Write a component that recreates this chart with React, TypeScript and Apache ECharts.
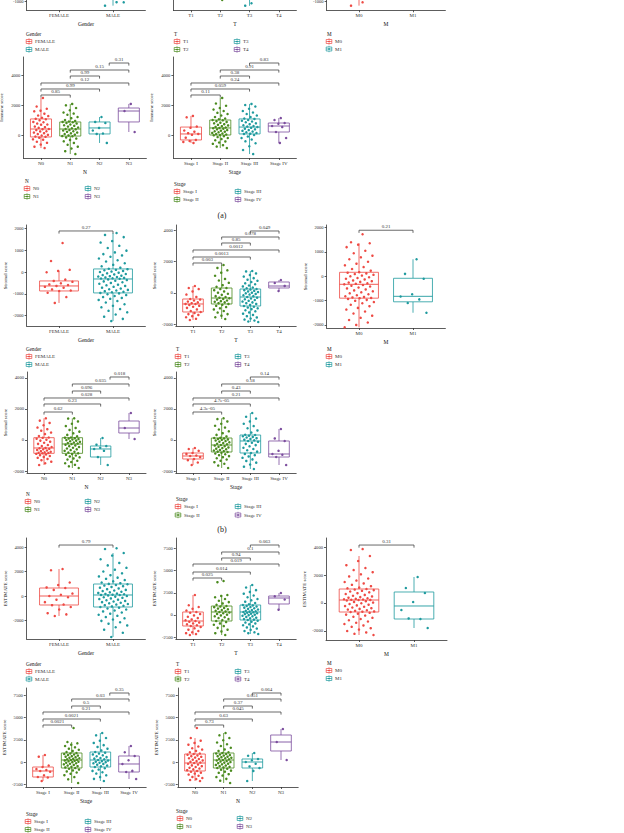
import React, { useEffect, useRef } from "react";
import * as echarts from "echarts";

// ---------- colours / fonts ----------
const RED = "#EE4A44";
const GREEN = "#4A8A1E";
const TEAL = "#1E9A9E";
const PURPLE = "#7C4E9E";
const C4 = [RED, GREEN, TEAL, PURPLE];
const C2 = [RED, TEAL];
const FONT = '"Liberation Serif", "DejaVu Serif", serif';
const TXT = "#333333";

// ---------- categories ----------
const genderCats = ["FEMALE", "MALE"];
const tCats = ["T1", "T2", "T3", "T4"];
const mCats = ["M0", "M1"];
const nCats = ["N0", "N1", "N2", "N3"];
const stageCats = ["Stage I", "Stage II", "Stage III", "Stage IV"];

// ---------- box statistics [min, q1, median, q3, max] ----------
const immuneGenderBox = [[-700, -150, 350, 1000, 2200], [-1290, -100, 450, 1050, 2600]];
const immuneTBox = [[-600, -300, 100, 500, 1300], [-910, 0, 450, 1000, 2400], [-1300, 50, 550, 1050, 2100], [-500, 200, 600, 800, 1100]];
const immuneMBox = [[-1290, -50, 450, 1050, 2500], [-600, 100, 500, 900, 1700]];
const immuneNBox = [[-870, -130, 400, 1070, 2470], [-1270, -70, 400, 870, 2070], [-530, 70, 470, 870, 1200], [200, 870, 1600, 1800, 2070]];
const immuneStageBox = [[-530, -330, 70, 530, 1270], [-870, 0, 470, 1000, 2470], [-1270, 70, 530, 1070, 2070], [-530, 200, 600, 800, 1130]];
const stromalGenderBox = [[-1420, -870, -640, -410, 50], [-2250, -960, -320, 140, 1790]];
const stromalTBox = [[-1725, -1214, -703, -383, 447], [-1661, -703, -320, 319, 1789], [-1853, -831, -256, 256, 1406], [128, 320, 447, 703, 830]];
const stromalMBox = [[-2100, -900, -330, 165, 1360], [-1500, -1050, -824, -82, 700]];
const stromalNBox = [[-1612, -860, -516, 150, 1400], [-1806, -860, -258, 150, 1400], [-1612, -1097, -580, -387, 130], [64, 451, 774, 1225, 1741]];
const stromalStageBox = [[-1612, -1225, -1032, -838, -516], [-1806, -774, -323, 129, 1400], [-1870, -838, -64, 322, 1741], [-1612, -1097, -903, -64, 709]];
const estGenderBox = [[-1632, -734, 0, 653, 2203], [-3346, -898, 82, 979, 3509]];
const estTBox = [[-2252, -1239, -676, 338, 2252], [-2252, -676, 338, 1013, 2252], [-2140, -563, 338, 1126, 3378], [563, 1239, 1914, 2139, 2477]];
const estMBox = [[-2286, -643, 214, 1000, 3357], [-1786, -1143, -214, 786, 1857]];
const estStageBox = [[-2140, -1689, -1013, -563, 788], [-2365, -676, 225, 1013, 2252], [-2140, -563, 225, 1126, 3265], [-1914, -1126, -225, 676, 1802]];
const estNBox = [[-2140, -1013, -113, 901, 2700], [-2365, -676, 225, 1013, 3265], [-2140, -676, 0, 338, 1013], [225, 1239, 2252, 3040, 3716]];

// ---------- jittered sample values ----------
const immuneGenderPts = [[], [-1060, -1290, -1070]];
const immuneTPts = [[], [-910], [-1130, -1290], []];
const immuneMPts = [[-1070, -1290], []];
const immuneNPts = [
  [2470, 1900, 1750, 1620, 1580, 1420, 1300, 1260, 1150, 1080, 1050, 980, 870, 850, 760, 700, 690, 560, 520, 480, 400, 390, 330, 250, 240, 160, 120, 60, 10, -40, -100, -120, -180, -290, -310, -450, -520, -640, -780, -870],
  [2070, 1980, 1800, 1650, 1500, 1430, 1350, 1200, 1120, 1000, 940, 900, 870, 850, 800, 760, 700, 650, 610, 560, 500, 450, 400, 380, 330, 300, 250, 210, 160, 110, 60, 20, -30, -70, -90, -160, -240, -330, -420, -530, -650, -780, -900, -1080, -1270],
  [1200, 870, 800, 470, 300, 100, 70, -530],
  [2070, 1600, 200],
];
const immuneStagePts = [
  [1270, 1180, 560, 480, 300, 220, 120, 70, 10, -180, -330, -400, -460, -530],
  [2470, 2100, 1950, 1800, 1700, 1600, 1480, 1400, 1300, 1200, 1100, 1050, 1000, 980, 920, 870, 820, 780, 720, 680, 640, 590, 540, 500, 470, 450, 420, 380, 330, 290, 250, 220, 180, 140, 100, 60, 30, 0, -20, -80, -140, -200, -270, -350, -430, -500, -590, -680, -770, -870],
  [2070, 2000, 1900, 1750, 1600, 1500, 1400, 1300, 1200, 1100, 1070, 1000, 950, 900, 850, 780, 720, 650, 600, 560, 530, 480, 420, 380, 330, 280, 230, 180, 130, 90, 70, 0, -100, -200, -300, -420, -550, -750, -1000, -1270],
  [1130, 1000, 800, 750, 600, 530, 200, -200, -530],
];
const stromalGenderPts = [
  [1330, 505, 100, 50, -10, -350, -410, -450, -520, -570, -600, -640, -680, -720, -800, -850, -870, -950, -1150, -1420],
  [1790, 1700, 1600, 1420, 1350, 1200, 1100, 980, 900, 820, 760, 700, 620, 540, 480, 400, 330, 260, 200, 150,
   130, 100, 80, 50, 20, 0, -30, -60, -90, -110, -140, -170, -190, -210, -230, -250, -270, -290, -300, -310,
   -340, -370, -400, -430, -470, -500, -540, -580, -610, -640, -680, -720, -760, -790, -820, -850, -880, -910, -930, -960,
   -980, -1020, -1060, -1100, -1150, -1190, -1230, -1280, -1330, -1400, -1480, -1550, -1620, -1700, -1780, -1850, -1950, -2050, -2150, -2250],
];
const stromalTPts = [
  [447, 320, 250, 100, -100, -250, -383, -420, -480, -550, -600, -650, -700, -703, -760, -820, -880, -950, -1050, -1150, -1214, -1280, -1350, -1400, -1480, -1550, -1650, -1725],
  [1789, 1600, 1450, 1300, 1100, 900, 800, 650, 500, 400, 319, 250, 180, 100, 20, -50, -120, -200, -260, -300, -340, -380, -420, -480, -520, -560, -600, -650, -700, -750, -820, -900, -980, -1050, -1150, -1250, -1350, -1450, -1550, -1661],
  [1406, 1380, 1250, 1150, 1050, 950, 850, 780, 700, 620, 560, 480, 420, 350, 300, 256, 220, 180, 140, 100, 60, 20, -20, -60, -100, -150, -200, -256, -300, -350, -400, -450, -500, -550, -600, -650, -700, -760, -831, -880, -930, -980, -1030, -1100, -1170, -1240, -1320, -1400, -1480, -1560, -1630, -1700, -1760, -1820, -1853],
  [830, 640, 450, 130],
];
const stromalMPts = [
  [1730, 1400, 1360, 1300, 1200, 1050, 950, 850, 780, 700, 600, 520, 450, 380, 300, 230, 170,
   150, 120, 90, 60, 30, 0, -40, -70, -100, -130, -170, -200, -230, -260, -290, -310, -330,
   -360, -390, -420, -460, -500, -540, -580, -620, -660, -700, -740, -780, -820, -850, -870, -890, -900,
   -930, -970, -1010, -1060, -1110, -1170, -1230, -1300, -1370, -1450, -1530, -1620, -1710, -1800, -1900, -2000, -2100],
  [700, 100, -100, -740, -830, -950, -1100, -1500],
];
const stromalNPts = [
  [1400, 1250, 1100, 950, 800, 700, 600, 480, 380, 260, 160, 140, 80, 20, -40, -110, -180, -250, -320, -390, -450, -510,
   -530, -570, -600, -640, -680, -720, -760, -790, -820, -840, -860, -890, -930, -980, -1030, -1090, -1150, -1220, -1300, -1400, -1500, -1612],
  [1400, 1380, 1200, 1050, 900, 780, 650, 540, 430, 330, 240, 160, 150, 120, 90, 60, 30, 0, -40, -80, -120, -160, -200, -230, -258,
   -300, -350, -400, -450, -500, -550, -600, -650, -700, -760, -810, -860, -900, -950, -1000, -1060, -1120, -1190, -1260, -1340, -1420, -1500, -1600, -1700, -1806],
  [130, -300, -390, -500, -580, -700, -1100, -1612],
  [1741, 774, 64],
];
const stromalStagePts = [
  [-516, -580, -700, -838, -900, -1000, -1032, -1100, -1225, -1300, -1450, -1612],
  [1400, 1350, 1200, 1050, 920, 800, 680, 560, 440, 330, 230, 140, 129, 100, 70, 40, 10, -30, -70, -110, -150, -200, -240, -280, -323,
   -360, -400, -440, -480, -520, -560, -600, -640, -680, -720, -750, -774, -820, -870, -920, -980, -1040, -1110, -1180, -1260, -1340, -1430, -1530, -1650, -1806],
  [1741, 1500, 1380, 1200, 1050, 900, 760, 620, 480, 340, 322, 280, 240, 200, 160, 120, 70, 20, -20, -64,
   -120, -180, -250, -330, -410, -500, -580, -660, -750, -838, -900, -980, -1060, -1150, -1250, -1350, -1460, -1580, -1720, -1870],
  [709, 100, -64, -700, -903, -950, -1097, -1612],
];
const estGenderPts = [
  [2203, 2100, 1100, 900, 700, 650, 500, 200, 100, 0, -100, -300, -500, -700, -750, -900, -1100, -1400, -1500, -1632],
  [3900, 3835, 3509, 3300, 3000, 2700, 2500, 2300, 2150, 2000, 1850, 1700, 1600, 1500, 1400, 1300, 1200, 1100, 1050, 990,
   960, 900, 850, 800, 740, 680, 620, 560, 500, 450, 400, 350, 300, 250, 200, 170, 140, 110, 90, 82,
   50, 0, -50, -100, -150, -200, -250, -300, -350, -400, -450, -500, -550, -600, -650, -700, -750, -800, -850, -898,
   -950, -1020, -1100, -1180, -1260, -1350, -1440, -1530, -1620, -1720, -1820, -1920, -2030, -2140, -2260, -2400, -2550, -2750, -3000, -3346],
];
const estTPts = [
  [2252, 1100, 900, 700, 500, 338, 250, 100, -50, -200, -350, -500, -600, -676, -750, -850, -950, -1050, -1150, -1239, -1350, -1500, -1650, -1800, -1950, -2050, -2150, -2252],
  [3829, 3700, 2252, 2150, 2000, 1800, 1600, 1450, 1300, 1150, 1013, 950, 880, 800, 720, 640, 560, 480, 400, 338, 280, 200, 120, 40, -50, -150, -250, -350, -450, -560, -676, -800, -950, -1100, -1250, -1450, -1650, -1850, -2050, -2252],
  [3378, 3100, 2800, 2600, 2400, 2200, 2000, 1800, 1650, 1500, 1350, 1200, 1126, 1080, 1020, 960, 900, 830, 760, 690, 620, 550, 480, 420, 380, 338, 300, 250, 200, 150, 100, 40, -20, -80, -150, -220, -300, -380, -460, -520, -563, -650, -750, -850, -950, -1050, -1150, -1280, -1400, -1530, -1670, -1800, -1950, -2050, -2140],
  [2477, 2100, 1750, 600],
];
const estMPts = [
  [3850, 3785, 3357, 3000, 2700, 2500, 2350, 2200, 2050, 1900, 1750, 1600, 1500, 1400, 1300, 1200, 1100, 1050, 1000,
   960, 920, 870, 820, 760, 700, 640, 580, 520, 470, 420, 380, 340, 300, 270, 250, 230, 220, 214,
   180, 130, 80, 30, -20, -70, -120, -170, -220, -270, -320, -370, -420, -470, -520, -560, -600, -620, -643,
   -700, -760, -830, -900, -980, -1060, -1140, -1230, -1320, -1410, -1500, -1600, -1700, -1800, -1900, -2000, -2100, -2200, -2286],
  [1857, 1071, 714, 71, -500, -1143, -1100, -1786],
];
const estStagePts = [
  [788, 600, -400, -563, -800, -900, -1013, -1100, -1500, -1689, -1750, -2140],
  [3829, 2252, 2100, 1950, 1800, 1650, 1500, 1380, 1250, 1130, 1013, 960, 900, 840, 780, 720, 660, 600, 540, 480, 420, 360, 300, 260, 225, 180, 130, 80, 30, -20, -80, -140, -200, -260, -330, -400, -470, -540, -610, -676, -760, -850, -950, -1060, -1180, -1320, -1480, -1700, -1950, -2365],
  [3265, 3000, 2700, 2400, 2150, 1900, 1700, 1500, 1300, 1126, 1050, 950, 850, 750, 650, 550, 450, 380, 300, 225, 160, 100, 40, -20, -80, -150, -220, -300, -400, -480, -563, -700, -850, -1000, -1150, -1300, -1500, -1700, -1900, -2140],
  [1802, 1100, 676, 200, -225, -1000, -1126, -1914],
];
const estNPts = [
  [3829, 2700, 2400, 2150, 1950, 1750, 1550, 1400, 1250, 1100, 960, 901, 820, 740, 660, 580, 500, 420, 340, 260, 180, 100, 20, -60, -113, -200, -290, -380, -470, -560, -650, -740, -830, -920, -1013, -1100, -1200, -1300, -1420, -1550, -1680, -1800, -1920, -2030, -2140],
  [3265, 3000, 2700, 2450, 2200, 2000, 1800, 1600, 1420, 1250, 1100, 1013, 960, 900, 840, 780, 720, 660, 600, 540, 480, 420, 360, 300, 225, 170, 110, 50, -10, -70, -130, -190, -260, -330, -400, -470, -540, -610, -676, -760, -860, -970, -1090, -1220, -1370, -1530, -1700, -1900, -2100, -2365],
  [1013, 700, 338, 200, 0, -200, -500, -676, -1000, -2140],
  [3716, 2252, 225],
];

// ---------- significance brackets [from, to, height, p] ----------
const immuneNBr = [[3.33, 4, 4800, "0.31"], [2, 4, 4333, "0.15"], [2, 3, 3933, "0.99"], [1, 4, 3467, "0.12"], [1, 3, 3067, "0.99"], [1, 2, 2667, "0.85"]];
const immuneStageBr = [[3, 4, 4800, "0.83"], [2, 4, 4333, "0.91"], [2, 3, 3933, "0.38"], [1, 4, 3467, "0.24"], [1, 3, 3067, "0.059"], [1, 2, 2667, "0.11"]];
const stromalGenderBr = [[1, 2, 1882, "0.27"]];
const stromalTBr = [[3, 4, 3962, "0.049"], [2, 4, 3578, "0.078"], [2, 3, 3195, "0.85"], [1, 4, 2748, "0.0012"], [1, 3, 2300, "0.0013"], [1, 2, 1917, "0.003"]];
const stromalMBr = [[1, 2, 1895, "0.21"]];
const stromalNBr = [[3.33, 4, 4065, "0.018"], [2, 4, 3613, "0.035"], [2, 3, 3161, "0.096"], [1, 4, 2710, "0.028"], [1, 3, 2323, "0.23"], [1, 2, 1806, "0.62"]];
const stromalStageBr = [[3, 4, 4065, "0.14"], [2, 4, 3613, "0.18"], [2, 3, 3161, "0.43"], [1, 4, 2710, "0.21"], [1, 3, 2323, "4.7e-05"], [1, 2, 1806, "4.3e-05"]];
const estGenderBr = [[1, 2, 4162, "0.79"]];
const estTBr = [[3, 4, 7882, "0.063"], [2, 4, 7094, "0.1"], [2, 3, 6418, "0.94"], [1, 4, 5743, "0.019"], [1, 3, 4842, "0.014"], [1, 2, 4166, "0.025"]];
const estMBr = [[1, 2, 4140, "0.31"]];
const estStageBr = [[3.33, 4, 7769, "0.35"], [2, 4, 7094, "0.03"], [2, 3, 6306, "0.5"], [1, 4, 5630, "0.21"], [1, 3, 4842, "0.0021"], [1, 2, 4166, "0.0021"]];
const estNBr = [[3, 4, 7769, "0.064"], [2, 4, 7094, "0.051"], [2, 3, 6306, "0.37"], [1, 4, 5630, "0.045"], [1, 3, 4842, "0.63"], [1, 2, 4166, "0.73"]];

// ---------- tick labels ----------
const ticksImmuneTop = [-1000];
const ticksImmune = [0, 2000, 4000];
const ticksStromal1k = [-2000, -1000, 0, 1000, 2000];
const ticksStromal2k = [-2000, 0, 2000, 4000];
const ticksEst2k = [-2000, 0, 2000, 4000];
const ticksEst2500 = [-2500, 0, 2500, 5000, 7500];

// ---------- panel layout ----------
type Panel = {
  g: [number, number, number, number];
  cats: string[]; colors: string[];
  yMin: number; yMax: number; ticks: number[];
  xName: string; yName: string;
  box: number[][]; pts: number[][]; br: any[];
};
const panels: Panel[] = [
  { g: [26.6, -92, 118.8, 102.3], cats: genderCats, colors: C2, yMin: -1600, yMax: 5220, ticks: ticksImmuneTop, xName: "Gender", yName: "", box: immuneGenderBox, pts: immuneGenderPts, br: [] },
  { g: [173.4, -92, 123, 102.3], cats: tCats, colors: C4, yMin: -1600, yMax: 5220, ticks: [], xName: "T", yName: "", box: immuneTBox, pts: immuneTPts, br: [] },
  { g: [326.6, -92, 118.8, 102.3], cats: mCats, colors: C2, yMin: -1600, yMax: 5220, ticks: ticksImmuneTop, xName: "M", yName: "", box: immuneMBox, pts: immuneMPts, br: [] },
  { g: [23.4, 57, 123, 101], cats: nCats, colors: C4, yMin: -1533, yMax: 5200, ticks: ticksImmune, xName: "N", yName: "Immune score", box: immuneNBox, pts: immuneNPts, br: immuneNBr },
  { g: [173.4, 57, 123, 101], cats: stageCats, colors: C4, yMin: -1533, yMax: 5200, ticks: ticksImmune, xName: "Stage", yName: "Immune score", box: immuneStageBox, pts: immuneStagePts, br: immuneStageBr },
  { g: [26.6, 225, 118.8, 101], cats: genderCats, colors: C2, yMin: -2477, yMax: 2156, ticks: ticksStromal1k, xName: "Gender", yName: "Stromal score", box: stromalGenderBox, pts: stromalGenderPts, br: stromalGenderBr },
  { g: [175.8, 225, 120.4, 101], cats: tCats, colors: C4, yMin: -2109, yMax: 4345, ticks: ticksStromal2k, xName: "T", yName: "Stromal score", box: stromalTBox, pts: stromalTPts, br: stromalTBr },
  { g: [326.6, 225, 118.8, 103], cats: mCats, colors: C2, yMin: -2128, yMax: 2111, ticks: ticksStromal1k, xName: "M", yName: "Stromal score", box: stromalMBox, pts: stromalMPts, br: stromalMBr },
  { g: [27, 372, 119, 101], cats: nCats, colors: C4, yMin: -2129, yMax: 4387, ticks: ticksStromal2k, xName: "N", yName: "Stromal score", box: stromalNBox, pts: stromalNPts, br: stromalNBr },
  { g: [175.8, 372, 120.4, 101], cats: stageCats, colors: C4, yMin: -2129, yMax: 4387, ticks: ticksStromal2k, xName: "Stage", yName: "Stromal score", box: stromalStageBox, pts: stromalStagePts, br: stromalStageBr },
  { g: [26.6, 538, 118.8, 101], cats: genderCats, colors: C2, yMin: -3510, yMax: 4735, ticks: ticksEst2k, xName: "Gender", yName: "ESTIMATE score", box: estGenderBox, pts: estGenderPts, br: estGenderBr },
  { g: [175.8, 538, 120.4, 101], cats: tCats, colors: C4, yMin: -2703, yMax: 8671, ticks: ticksEst2500, xName: "T", yName: "ESTIMATE score", box: estTBox, pts: estTPts, br: estTBr },
  { g: [326, 538, 121, 102], cats: mCats, colors: C2, yMin: -2643, yMax: 4643, ticks: ticksEst2k, xName: "M", yName: "ESTIMATE score", box: estMBox, pts: estMPts, br: estMBr },
  { g: [25.8, 688, 120.4, 99], cats: stageCats, colors: C4, yMin: -2815, yMax: 8333, ticks: ticksEst2500, xName: "Stage", yName: "ESTIMATE score", box: estStageBox, pts: estStagePts, br: estStageBr },
  { g: [177.8, 688, 120.4, 99], cats: nCats, colors: C4, yMin: -2815, yMax: 8333, ticks: ticksEst2500, xName: "N", yName: "ESTIMATE score", box: estNBox, pts: estNPts, br: estNBr },
];

// legends: [x, y(title), title, names, colors, col1IconX, col2IconX, rowGap]
const legends: any[] = [
  [26, 34, "Gender", genderCats, C2, 29, 0, 8],
  [174, 34, "T", tCats, C4, 177, 237, 8],
  [327, 34, "M", mCats, C2, 329, 0, 7.5],
  [25, 181, "N", nCats, C4, 27, 88, 8],
  [174, 184, "Stage", stageCats, C4, 177, 238, 8],
  [26, 349, "Gender", genderCats, C2, 29, 0, 8],
  [176, 349, "T", tCats, C4, 178, 238, 8],
  [327, 349, "M", mCats, C2, 329, 0, 8],
  [26, 494, "N", nCats, C4, 28, 88, 8],
  [176, 499, "Stage", stageCats, C4, 178, 238, 8.5],
  [26, 664, "Gender", genderCats, C2, 29, 0, 7.5],
  [176, 664, "T", tCats, C4, 178, 238, 7.5],
  [327, 663, "M", mCats, C2, 329, 0, 8],
  [26, 814, "Stage", stageCats, C4, 28, 88, 8],
  [176, 811, "Stage", nCats, C4, 180, 240, 8],
];
const panelTags: any[] = [["(a)", 222, 215], ["(b)", 222, 529]];

const jit = (j: number) => ((((j + 1) * 0.6180339887) % 1) - 0.5) * 0.56;

function buildOption() {
  const grid = panels.map((p) => ({ left: p.g[0], top: p.g[1], width: p.g[2], height: p.g[3], containLabel: false, outerBoundsMode: "none" }));
  const xAxis = panels.map((p, i) => {
    const idx = p.cats.map((_, k) => k + 1);
    return {
      gridIndex: i, type: "value", min: 0.4, max: p.cats.length + 0.6,
      splitLine: { show: false },
      axisLine: { show: true, onZero: false, lineStyle: { color: TXT, width: 0.8 } },
      axisTick: { show: true, customValues: idx, length: 2, lineStyle: { color: TXT, width: 0.8 } },
      axisLabel: { customValues: idx, formatter: (v: number) => p.cats[Math.round(v) - 1] || "", fontSize: 5, fontFamily: FONT, color: TXT, margin: 3 },
      name: p.xName, nameLocation: "middle", nameGap: 11,
      nameTextStyle: { fontSize: 5.5, fontFamily: FONT, color: "#111" },
    };
  });
  const yAxis = panels.map((p, i) => {
    const has = p.ticks.length > 0;
    return {
      gridIndex: i, type: "value", min: p.yMin, max: p.yMax,
      splitLine: { show: false },
      axisLine: { show: true, onZero: false, lineStyle: { color: TXT, width: 0.8 } },
      axisTick: { show: has, customValues: has ? p.ticks : undefined, length: 2, lineStyle: { color: TXT, width: 0.8 } },
      axisLabel: { show: has, customValues: has ? p.ticks : undefined, formatter: (v: number) => String(v), fontSize: 4.6, fontFamily: FONT, color: TXT, margin: 3 },
      name: p.yName, nameLocation: "middle", nameGap: 19, nameRotate: 90,
      nameTextStyle: { fontSize: 5, fontFamily: FONT, color: "#111" },
    };
  });

  const series: any[] = [];
  panels.forEach((p, i) => {
    series.push({
      type: "custom", xAxisIndex: i, yAxisIndex: i, silent: true,
      data: p.box.map((b, k) => [k + 1, b[0], b[4]]),
      encode: { x: 0, y: [1, 2] },
      renderItem: (params: any, api: any) => {
        const k = params.dataIndex;
        const b = p.box[k];
        const c = p.colors[k];
        const hw = api.size([0.72, 0])[0] / 2;
        const cx = api.coord([k + 1, b[2]])[0];
        const y = (v: number) => api.coord([k + 1, v])[1];
        const st = { stroke: c, lineWidth: 0.8, fill: null };
        return {
          type: "group",
          children: [
            { type: "line", shape: { x1: cx, y1: y(b[4]), x2: cx, y2: y(b[3]) }, style: st },
            { type: "line", shape: { x1: cx, y1: y(b[1]), x2: cx, y2: y(b[0]) }, style: st },
            { type: "rect", shape: { x: cx - hw, y: y(b[3]), width: 2 * hw, height: y(b[1]) - y(b[3]) }, style: { stroke: c, lineWidth: 0.8, fill: "#ffffff" } },
            { type: "line", shape: { x1: cx - hw, y1: y(b[2]), x2: cx + hw, y2: y(b[2]) }, style: { stroke: c, lineWidth: 0.9 } },
          ],
        };
      },
      z: 2,
    });
    p.pts.forEach((grp, k) => {
      series.push({
        type: "scatter", xAxisIndex: i, yAxisIndex: i, silent: true,
        symbol: "circle", symbolSize: 2.5,
        itemStyle: { color: p.colors[k], opacity: 1 },
        data: grp.map((v, j) => [k + 1 + jit(j), v]),
        z: 3,
      });
    });
    if (p.br.length) {
      series.push({
        type: "custom", xAxisIndex: i, yAxisIndex: i, silent: true,
        data: p.br.map((b) => [b[0], b[2]]),
        encode: { x: 0, y: 1 },
        renderItem: (params: any, api: any) => {
          const b = p.br[params.dataIndex];
          const p1 = api.coord([b[0], b[2]]);
          const p2 = api.coord([b[1], b[2]]);
          return {
            type: "group",
            children: [
              { type: "polyline", shape: { points: [[p1[0], p1[1] + 2.6], [p1[0], p1[1]], [p2[0], p2[1]], [p2[0], p2[1] + 2.6]] }, style: { stroke: "#444", lineWidth: 0.8, fill: null } },
              { type: "text", x: (p1[0] + p2[0]) / 2, y: p1[1] - 0.8, style: { text: b[3], fontSize: 5, fontFamily: FONT, fill: TXT, align: "center", verticalAlign: "bottom" } },
            ],
          };
        },
        z: 4,
      });
    }
  });

  const elements: any[] = [];
  legends.forEach((L) => {
    const [x, y, title, names, colors, ix1, ix2, gap] = L;
    elements.push({ type: "text", x, y, style: { text: title, fontSize: 5.2, fontFamily: FONT, fill: "#111", verticalAlign: "middle" } });
    names.forEach((nm: string, k: number) => {
      const col = names.length > 2 ? Math.floor(k / 2) : 0;
      const row = names.length > 2 ? k % 2 : k;
      const ix = col === 0 ? ix1 : ix2;
      const iy = y + 7.5 + row * gap;
      const c = colors[k];
      elements.push({
        type: "group", x: ix, y: iy,
        children: [
          { type: "line", shape: { x1: 0, y1: -3.2, x2: 0, y2: 3.2 }, style: { stroke: c, lineWidth: 0.7 } },
          { type: "rect", shape: { x: -2.8, y: -2, width: 5.6, height: 4 }, style: { stroke: c, lineWidth: 0.7, fill: "#ffffff" } },
          { type: "line", shape: { x1: -2.8, y1: 0, x2: 2.8, y2: 0 }, style: { stroke: c, lineWidth: 0.7 } },
          { type: "circle", shape: { cx: 0, cy: 0, r: 0.9 }, style: { fill: c } },
        ],
      });
      elements.push({ type: "text", x: ix + 6, y: iy, style: { text: nm, fontSize: 5, fontFamily: FONT, fill: TXT, verticalAlign: "middle" } });
    });
  });
  panelTags.forEach(([t, x, y]) => {
    elements.push({ type: "text", x, y, style: { text: t, fontSize: 8, fontFamily: FONT, fill: "#222", align: "center", verticalAlign: "middle" } });
  });

  return { animation: false, backgroundColor: "#ffffff", grid, xAxis, yAxis, series, graphic: { elements } };
}

export default function App() {
  const ref = useRef<HTMLDivElement>(null);
  useEffect(() => {
    if (!ref.current) return;
    const chart = echarts.init(ref.current, undefined, { renderer: "svg" });
    chart.setOption(buildOption() as any);
    return () => chart.dispose();
  }, []);
  return <div ref={ref} style={{ position: "absolute", left: 0, top: 0, width: 624, height: 833, background: "#fff" }} />;
}
